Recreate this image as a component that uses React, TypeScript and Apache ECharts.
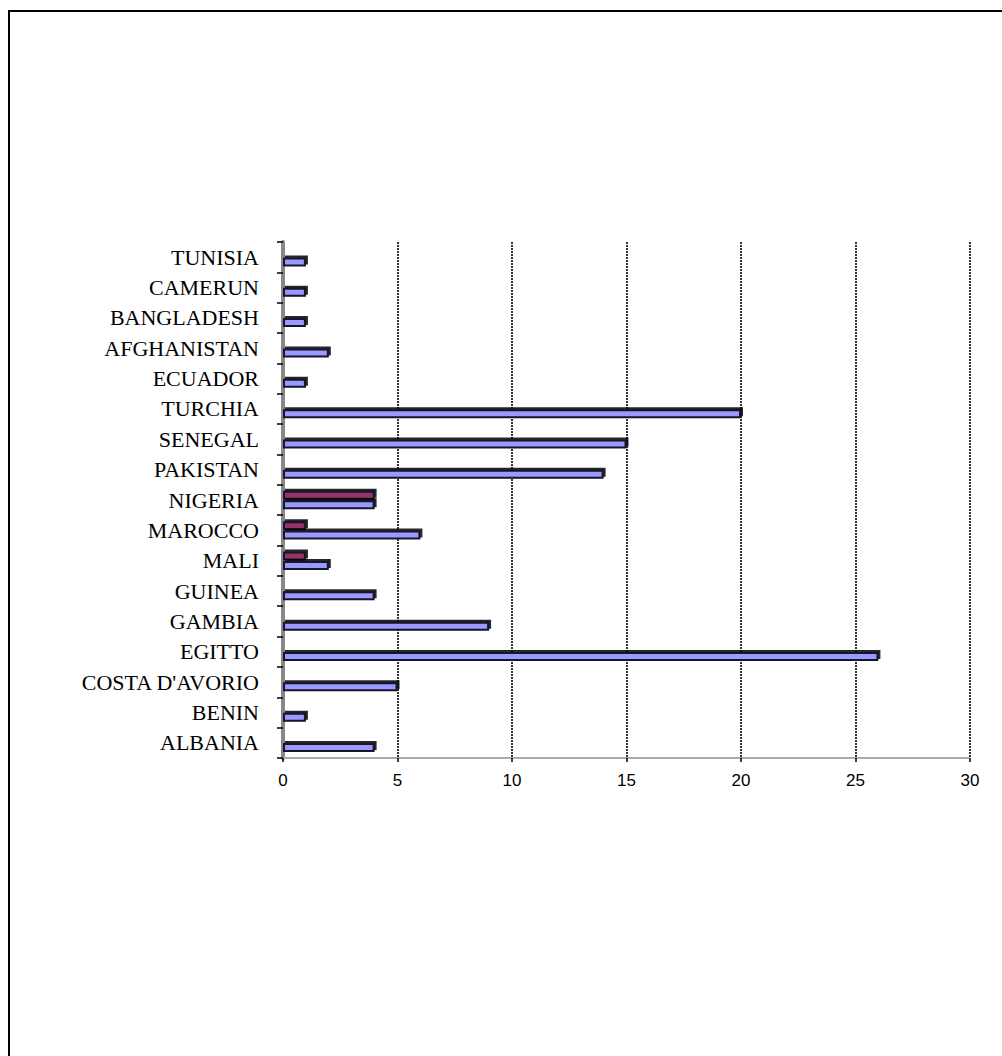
import React, { useEffect, useRef } from "react";
import * as echarts from "echarts";

const categories = [
  "ALBANIA", "BENIN", "COSTA D'AVORIO", "EGITTO", "GAMBIA", "GUINEA", "MALI",
  "MAROCCO", "NIGERIA", "PAKISTAN", "SENEGAL", "TURCHIA", "ECUADOR",
  "AFGHANISTAN", "BANGLADESH", "CAMERUN", "TUNISIA",
];
const blueValues = [4, 1, 5, 26, 9, 4, 2, 6, 4, 14, 15, 20, 1, 2, 1, 1, 1];
const redValues = [0, 0, 0, 0, 0, 0, 1, 1, 4, 0, 0, 0, 0, 0, 0, 0, 0];
const xTicks = [0, 5, 10, 15, 20, 25, 30];

export default function App() {
  const ref = useRef<HTMLDivElement>(null);
  useEffect(() => {
    const chart = echarts.init(ref.current!, null, { renderer: "svg" });
    const barStyle = (color: string) => ({
      color,
      borderColor: "#14142a",
      borderWidth: 2,
      shadowColor: "rgba(0,0,0,0.85)",
      shadowOffsetX: 2,
      shadowOffsetY: -2,
      shadowBlur: 0,
    });
    chart.setOption({
      animation: false,
      backgroundColor: "#fff",
      graphic: [
        {
          type: "rect",
          shape: { x: 9, y: 11, width: 2000, height: 2000 },
          style: { fill: "none", stroke: "#000", lineWidth: 2 },
          silent: true,
        },
      ],
      grid: { left: 283, right: 32, top: 242, bottom: 298, containLabel: false },
      xAxis: {
        type: "value",
        min: xTicks[0],
        max: xTicks[xTicks.length - 1],
        interval: 5,
        axisLine: { show: true, lineStyle: { color: "#aaa", width: 2, type: [2, 1] } },
        axisTick: { show: true, length: 4, lineStyle: { color: "#000", width: 1.5 } },
        axisLabel: {
          color: "#000",
          fontFamily: "Liberation Sans, Arial, sans-serif",
          fontSize: 17,
          margin: 14,
        },
        splitLine: {
          show: true,
          lineStyle: { color: "#333", width: 2, type: [2, 1] },
        },
      },
      yAxis: {
        type: "category",
        data: categories,
        axisLine: { show: true, lineStyle: { color: "#888", width: 4 } },
        axisTick: { show: true, length: 6, lineStyle: { color: "#000", width: 1.5 } },
        axisLabel: {
          color: "#000",
          fontFamily: "Liberation Serif, Times New Roman, serif",
          fontSize: 22,
          margin: 24,
          interval: 0,
        },
        splitLine: { show: false },
      },
      series: [
        {
          type: "bar",
          data: redValues.map((v) => (v === 0 ? null : v)),
          barWidth: 9,
          barGap: "5%",
          itemStyle: barStyle("#993366"),
          z: 3,
        },
        {
          type: "bar",
          data: blueValues,
          barWidth: 9,
          barGap: "5%",
          itemStyle: barStyle("#9999ff"),
          z: 3,
        },
      ],
    });
    return () => chart.dispose();
  }, []);
  return (
    <div
      ref={ref}
      style={{ position: "absolute", left: 0, top: 0, width: 1002, height: 1056 }}
    />
  );
}
